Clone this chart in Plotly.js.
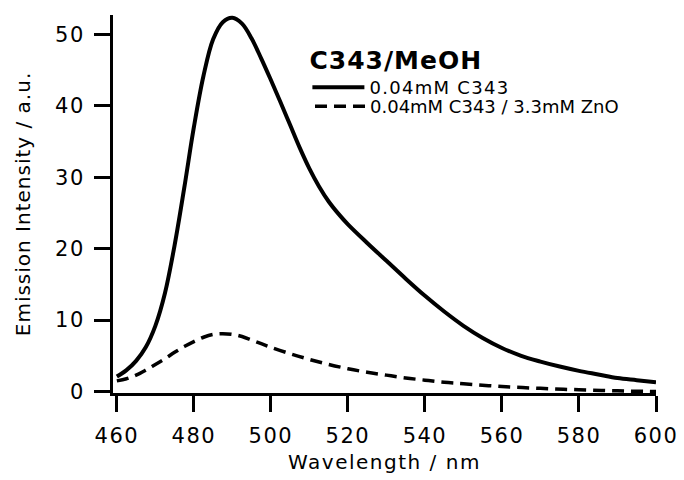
<!DOCTYPE html>
<html>
<head>
<meta charset="utf-8">
<script src="https://cdn.plot.ly/plotly-3.0.1.min.js"></script>
<style>
html, body { margin: 0; padding: 0; background: #fff; }
#chart { width: 684px; height: 480px; }
.xtick text, .ytick text { letter-spacing: 1.5px; }
.xtitle { letter-spacing: 1.5px; }
.ytitle { letter-spacing: 1px; }
.legendtext { letter-spacing: 1.3px; }
.legendtitletext { letter-spacing: 1px; }
</style>
</head>
<body>
<div id="chart"></div>
<script>
// Emission spectra of C343 in MeOH
const wlPure = [460, 462.5, 465, 467.5, 470, 472.5, 475, 477.5, 480, 482.5, 485, 487.5, 490, 492.5, 495, 497.5, 500, 502.5, 505, 507.5, 510, 512.5, 515, 517.5, 520, 525, 530, 535, 540, 545, 550, 555, 560, 565, 570, 575, 580, 585, 590, 595, 600];
const intPure = [2.1, 3.0, 4.3, 6.2, 9.2, 13.8, 20.5, 28.5, 37.0, 44.2, 49.3, 51.7, 52.3, 51.5, 49.4, 46.6, 43.6, 40.5, 37.3, 34.1, 31.2, 28.7, 26.6, 24.9, 23.4, 20.8, 18.3, 15.8, 13.4, 11.2, 9.2, 7.5, 6.1, 5.0, 4.2, 3.5, 2.9, 2.4, 1.9, 1.6, 1.3];

const wlZnO = [460, 462.5, 465, 467.5, 470, 472.5, 475, 477.5, 480, 482.5, 485, 487.5, 490, 492.5, 495, 497.5, 500, 505, 510, 515, 520, 525, 530, 535, 540, 545, 550, 560, 570, 580, 590, 600];
const intZnO = [1.5, 1.8, 2.3, 3.0, 3.8, 4.6, 5.5, 6.3, 7.0, 7.6, 8.0, 8.1, 8.0, 7.7, 7.2, 6.7, 6.2, 5.3, 4.5, 3.8, 3.2, 2.7, 2.3, 1.9, 1.6, 1.3, 1.1, 0.7, 0.45, 0.25, 0.1, 0.0];

const xTicks = [460, 480, 500, 520, 540, 560, 580, 600];
const yTicks = [0, 10, 20, 30, 40, 50];

const legendTitle = "C343/MeOH";
const namePure = "0.04mM C343";
const nameZnO = "0.04mM C343 / 3.3mM ZnO";

const font = "DejaVu Sans, Arial, sans-serif";

const traces = [
  {
    x: wlPure, y: intPure, type: "scatter", mode: "lines", name: namePure,
    line: { color: "#000", width: 4, shape: "spline", smoothing: 1 },
    legend: "legend"
  },
  {
    x: wlZnO, y: intZnO, type: "scatter", mode: "lines", name: nameZnO,
    line: { color: "#000", width: 3.5, dash: "12px,7px", shape: "spline", smoothing: 1 },
    legend: "legend2"
  }
];

const layout = {
  width: 684, height: 480,
  margin: { l: 113, r: 28, t: 15, b: 87 },
  paper_bgcolor: "#fff", plot_bgcolor: "#fff",
  font: { family: font, color: "#000" },
  showlegend: true,
  xaxis: {
    range: [459, 600],
    tickmode: "array", tickvals: xTicks, ticktext: xTicks.map(String),
    ticks: "outside", ticklen: 16, tickwidth: 3, tickcolor: "#000",
    showline: true, linewidth: 3, linecolor: "#000",
    showgrid: false, zeroline: false,
    tickfont: { family: font, size: 21, color: "#000" },
    ticklabelstandoff: 6,
    title: { text: "Wavelength / nm", font: { family: font, size: 20, color: "#000" }, standoff: 8 }
  },
  yaxis: {
    range: [-0.2, 52.7],
    tickmode: "array", tickvals: yTicks, ticktext: yTicks.map(String),
    ticks: "outside", ticklen: 16, tickwidth: 3, tickcolor: "#000",
    showline: true, linewidth: 3, linecolor: "#000",
    showgrid: false, zeroline: false,
    tickfont: { family: font, size: 21, color: "#000" },
    ticklabelstandoff: 5,
    title: { text: "Emission Intensity / a.u.", font: { family: font, size: 20, color: "#000" }, standoff: 20 }
  },
  legend: {
    x: 0.358, y: 0.943, xanchor: "left", yanchor: "top",
    bgcolor: "rgba(0,0,0,0)", borderwidth: 0,
    itemwidth: 52,
    font: { family: font, size: 18, color: "#000" },
    title: { text: "<b>" + legendTitle + "</b>", font: { family: font, size: 25, color: "#000" } },
    tracegroupgap: 0
  },
  legend2: {
    x: 0.3628, y: 0.807, xanchor: "left", yanchor: "top",
    bgcolor: "rgba(0,0,0,0)", borderwidth: 0,
    itemwidth: 50,
    font: { family: font, size: 18, color: "#000" }
  }
};

Plotly.newPlot("chart", traces, layout, { displayModeBar: false, staticPlot: true });
</script>
</body>
</html>
